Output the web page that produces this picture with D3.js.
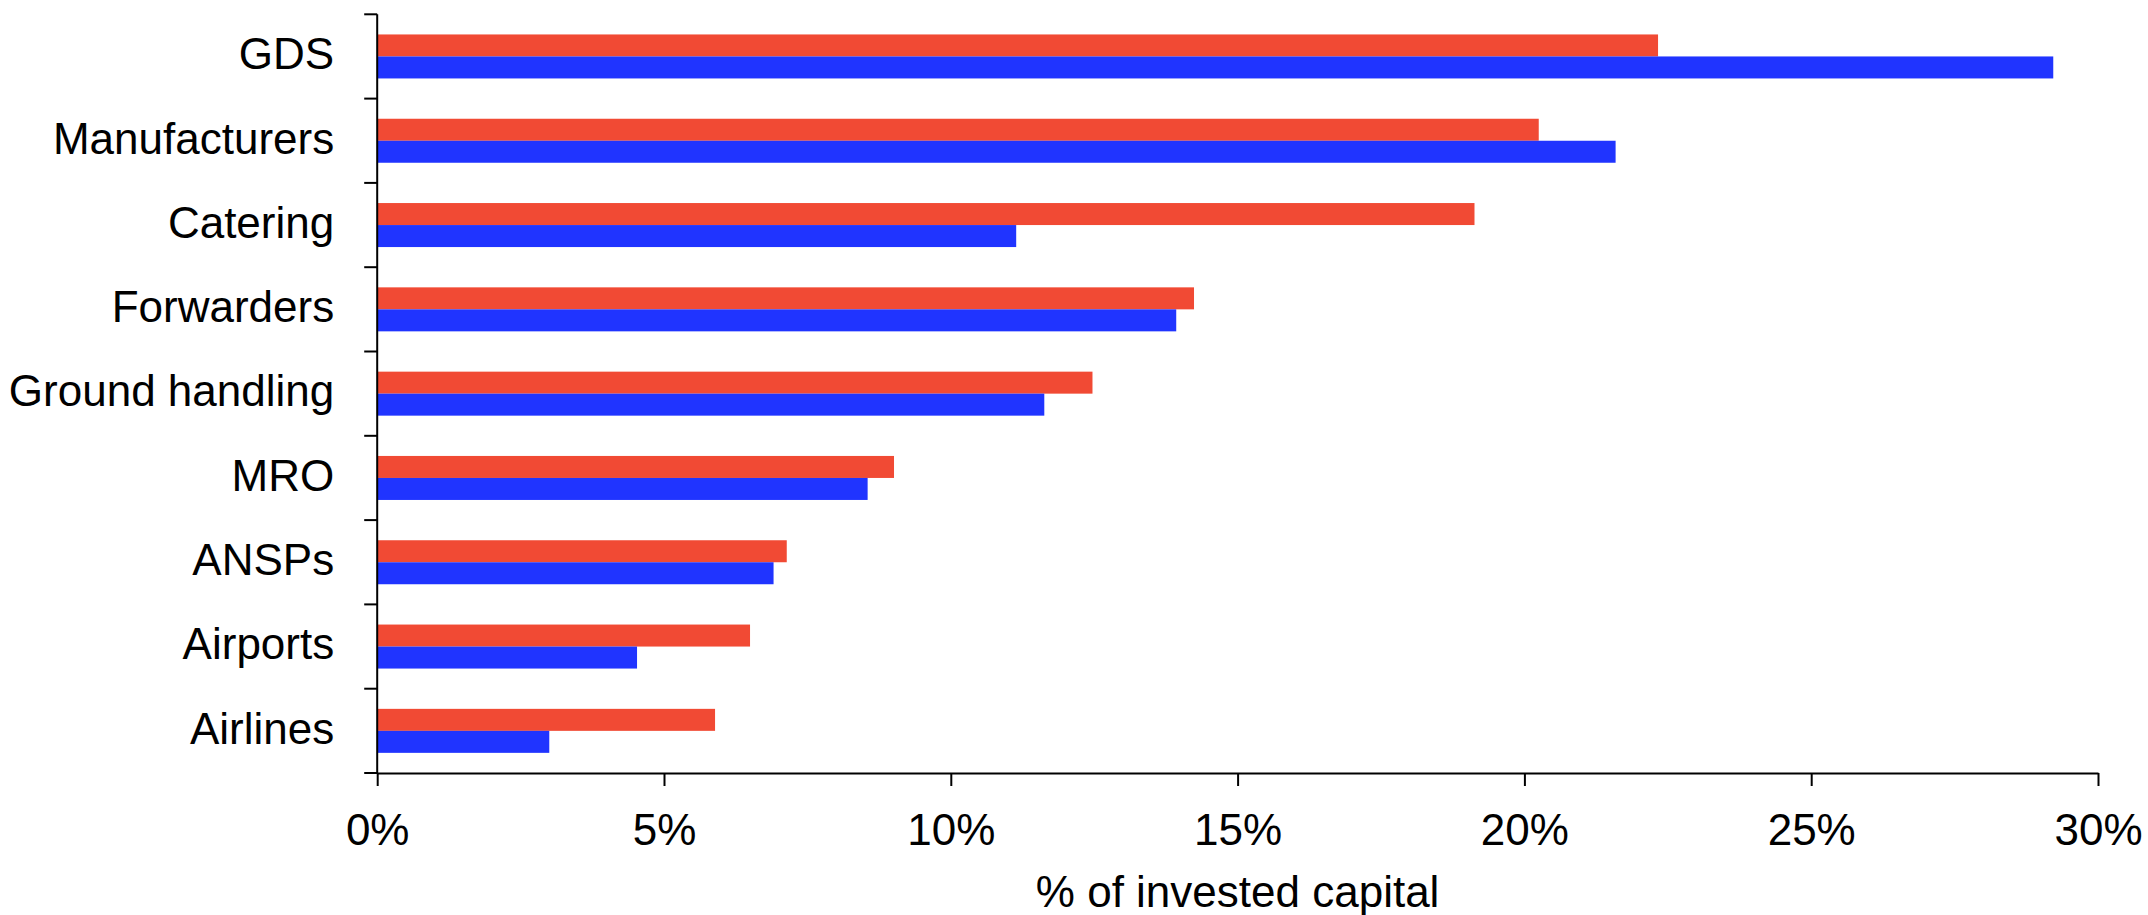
<!DOCTYPE html>
<html>
<head>
<meta charset="utf-8">
<script src="https://cdn.jsdelivr.net/npm/d3@7"></script>
<style>
  html, body { margin: 0; padding: 0; background: #fff; }
  svg { display: block; }
  text { font-family: "Liberation Sans", Arial, sans-serif; fill: #000; }
</style>
</head>
<body>
<svg id="chart" width="2148" height="915"></svg>
<script>
const categories = ["GDS", "Manufacturers", "Catering", "Forwarders", "Ground handling", "MRO", "ANSPs", "Airports", "Airlines"];
const seriesNames = ["Red", "Blue"];
const redValues  = [22.33, 20.25, 19.13, 14.24, 12.47, 9.01, 7.14, 6.50, 5.89];
const blueValues = [29.22, 21.59, 11.14, 13.93, 11.63, 8.55, 6.91, 4.53, 3.00];
const xTicks = [0, 5, 10, 15, 20, 25, 30];
const xTitle = "% of invested capital";
const colors = { Red: "#f14a34", Blue: "#2034ff" };

const W = 2148, H = 915;
const FS = 44;
const margin = { top: 14.3, right: 50, bottom: 142, left: 377.2 };
const innerW = W - margin.left - margin.right;
const innerH = H - margin.top - margin.bottom;

const svg = d3.select("#chart");
const g = svg.append("g").attr("transform", `translate(${margin.left},${margin.top})`);

const x = d3.scaleLinear().domain([0, 30]).range([0, innerW]);
const y0 = d3.scaleBand().domain(categories).range([0, innerH]).padding(0);
const y1 = d3.scaleBand().domain(seriesNames).range([0, y0.bandwidth()]).paddingInner(0).paddingOuter(0.916);

const rows = categories.map((c, i) => ({ cat: c, Red: redValues[i], Blue: blueValues[i] }));

const groups = g.selectAll("g.cat").data(rows).join("g")
  .attr("class", "cat")
  .attr("transform", d => `translate(0,${y0(d.cat)})`);

groups.selectAll("rect").data(d => seriesNames.map(s => ({ s, v: d[s] }))).join("rect")
  .attr("x", x(0))
  .attr("y", d => y1(d.s))
  .attr("width", d => x(d.v) - x(0))
  .attr("height", y1.bandwidth())
  .attr("fill", d => colors[d.s]);

// Y axis (labels)
const yAxis = g.append("g")
  .call(d3.axisLeft(y0).tickSize(0).tickPadding(43));
yAxis.select(".domain").remove();
yAxis.selectAll("text").attr("font-size", FS).attr("dy", "0.29em")
  .style("font-family", '"Liberation Sans", Arial, sans-serif').attr("fill", "#000");

// Y axis line and boundary ticks
const boundaries = categories.map(c => y0(c)).concat([y0.range()[1]]);
g.append("line")
  .attr("x1", x(0)).attr("x2", x(0))
  .attr("y1", y0.range()[0]).attr("y2", y0.range()[1])
  .attr("stroke", "#000").attr("stroke-width", 2);
g.selectAll("line.ytick").data(boundaries).join("line")
  .attr("class", "ytick")
  .attr("x1", x(0) - 13).attr("x2", x(0))
  .attr("y1", d => d).attr("y2", d => d)
  .attr("stroke", "#000").attr("stroke-width", 2);

// X axis
const xAxis = g.append("g")
  .attr("transform", `translate(0,${innerH})`)
  .call(d3.axisBottom(x).tickValues(xTicks).tickSize(13).tickPadding(28).tickFormat(d => d + "%").tickSizeOuter(0));
xAxis.select(".domain").attr("stroke", "#000").attr("stroke-width", 2);
xAxis.selectAll(".tick line").attr("stroke", "#000").attr("stroke-width", 2);
xAxis.selectAll("text").attr("font-size", FS)
  .style("font-family", '"Liberation Sans", Arial, sans-serif').attr("fill", "#000");

// X title
g.append("text")
  .attr("x", innerW / 2)
  .attr("y", innerH + 134)
  .attr("text-anchor", "middle")
  .attr("font-size", FS)
  .text(xTitle);
</script>
</body>
</html>
